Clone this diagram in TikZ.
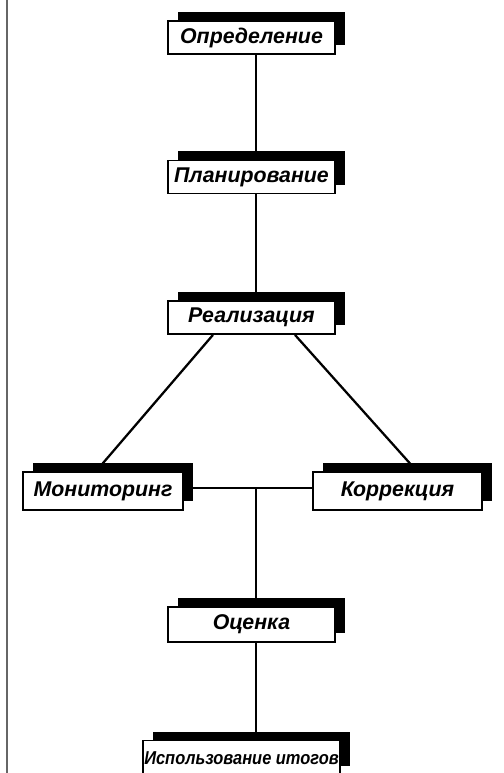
\documentclass[tikz,border=0pt]{standalone}
\usepackage{fontspec}
\setmainfont{Liberation Sans}
\usetikzlibrary{positioning,shadows}

\begin{document}
\begin{tikzpicture}[
  x=0.75pt,y=-0.75pt,
  font=\fontsize{16}{19}\selectfont\bfseries\itshape,
  stage/.style={draw,fill=white,line width=1.1pt,minimum width=125pt,minimum height=25pt,inner sep=2pt,
    general shadow={fill=black,shadow xshift=7.5pt,shadow yshift=6.75pt}},
  link/.style={line width=1.7pt}
]
\useasboundingbox (0,0) rectangle (503,773);
\draw[black!60,line width=1pt] (7,0) -- (7,773);

\node[stage] (opr) at (251.5,37.5) {Определение};
\node[stage] (plan) at (251.5,177) {Планирование};
\node[stage] (real) at (251.5,317.5) {Реализация};
\node[stage,minimum width=120pt,minimum height=28.5pt] (mon) at (103,491) {Мониторинг};
\node[stage,minimum width=127pt,minimum height=28.5pt] (korr) at (397.5,491) {Коррекция};
\node[stage,minimum height=26pt] (ots) at (251.5,624.5) {Оценка};
\node[stage,minimum width=148pt,minimum height=26pt,inner sep=1pt,
      font=\fontsize{14}{17}\selectfont\bfseries\itshape] (isp) at (241.5,758)
  {\scalebox{0.88}[1]{Использование итогов}};
\coordinate (junc) at (256,488);

\draw[link] (opr.south -| junc) -- (plan.north -| junc);
\draw[link] (plan.south -| junc) -- (real.north -| junc);
\draw[link] ([xshift=-28.9pt]real.south) -- ([xshift=-5.25pt]mon.north);
\draw[link] ([xshift=32.6pt]real.south) -- ([xshift=14.6pt]korr.north);
\draw[link] ([yshift=2.25pt]mon.east) -- ([yshift=2.25pt]korr.west);
\draw[link] (junc) -- (ots.north -| junc);
\draw[link] (ots.south -| junc) -- (isp.north -| junc);
\end{tikzpicture}
\end{document}
